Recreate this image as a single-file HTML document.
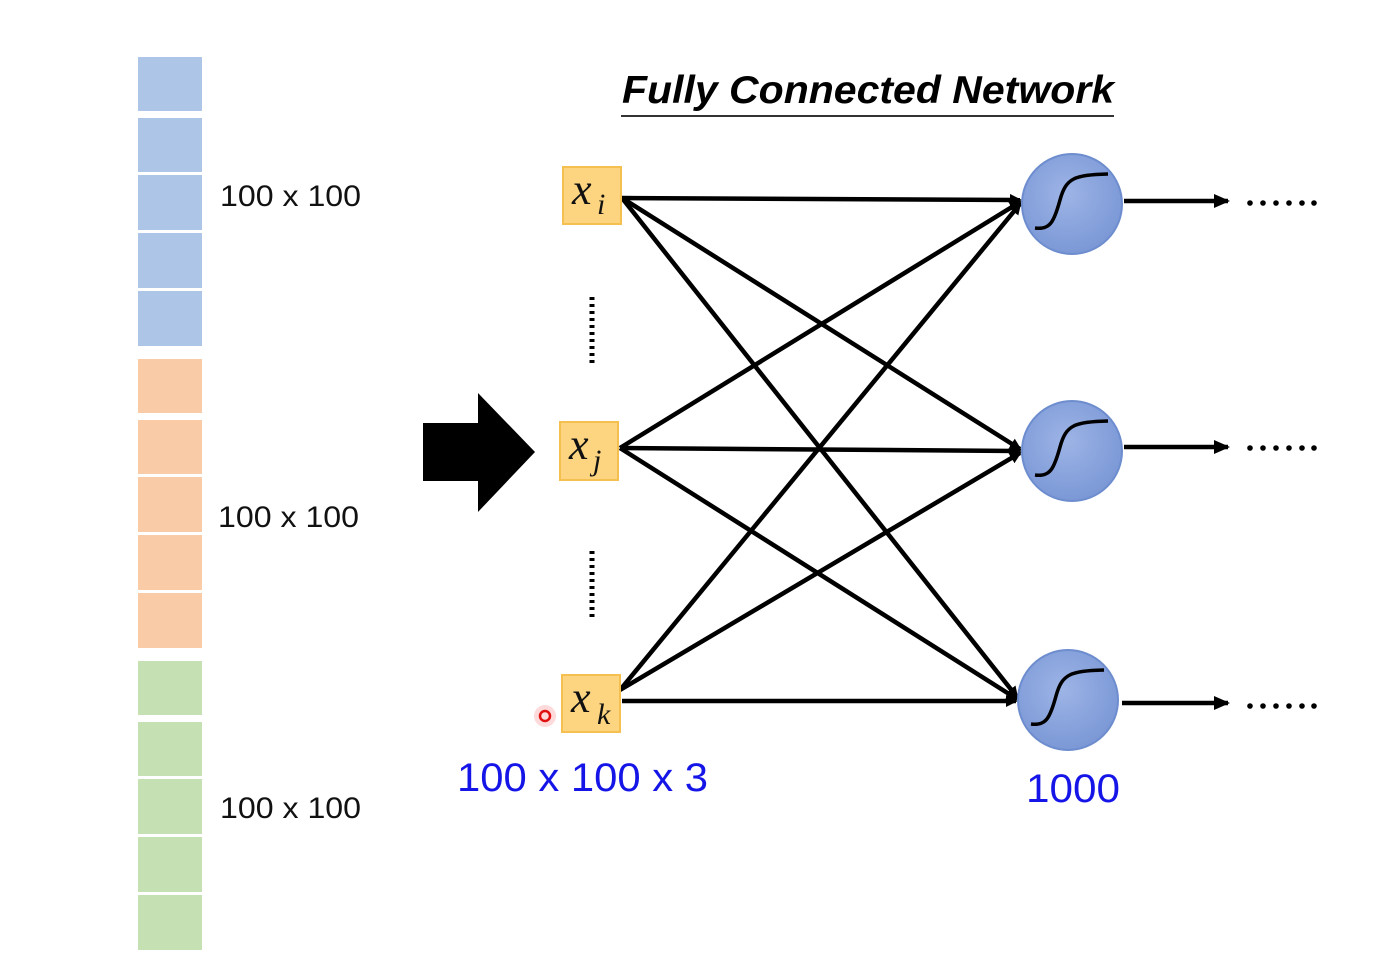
<!DOCTYPE html>
<html><head><meta charset="utf-8"><style>html,body{margin:0;padding:0;background:#fff}svg{display:block}</style></head>
<body>
<svg width="1399" height="971" viewBox="0 0 1399 971" xmlns="http://www.w3.org/2000/svg">
<defs>
<marker id="ah" markerWidth="12" markerHeight="12" refX="10" refY="6" orient="auto" markerUnits="userSpaceOnUse" viewBox="0 0 12 12">
<path d="M0,0 L12,6 L0,12 z" fill="#000"/></marker>
<marker id="ah2" markerWidth="16" markerHeight="14" refX="14" refY="7" orient="auto" markerUnits="userSpaceOnUse" viewBox="0 0 16 14">
<path d="M0,0 L16,7 L0,14 z" fill="#000"/></marker>
<radialGradient id="cg" cx="0.45" cy="0.4" r="0.6"><stop offset="0" stop-color="#9db4e6"/><stop offset="1" stop-color="#7b98d6"/></radialGradient>
<g id="dots" fill="#000"><circle cx="1250" cy="0" r="2.8"/><circle cx="1263" cy="0" r="2.8"/><circle cx="1276" cy="0" r="2.8"/><circle cx="1289" cy="0" r="2.8"/><circle cx="1302" cy="0" r="2.8"/><circle cx="1314" cy="0" r="2.8"/></g>
</defs>
<g fill="#adc5e6">
<rect x="138" y="57" width="64" height="54"/><rect x="138" y="118" width="64" height="54"/><rect x="138" y="175" width="64" height="55"/><rect x="138" y="233" width="64" height="55"/><rect x="138" y="291" width="64" height="55"/>
</g>
<g fill="#f9cba6">
<rect x="138" y="359" width="64" height="54"/><rect x="138" y="420" width="64" height="54"/><rect x="138" y="477" width="64" height="55"/><rect x="138" y="535" width="64" height="55"/><rect x="138" y="593" width="64" height="55"/>
</g>
<g fill="#c5e0b3">
<rect x="138" y="661" width="64" height="54"/><rect x="138" y="722" width="64" height="54"/><rect x="138" y="779" width="64" height="55"/><rect x="138" y="837" width="64" height="55"/><rect x="138" y="895" width="64" height="55"/>
</g>
<g font-family="Liberation Sans, sans-serif" font-size="30" fill="#111">
<text x="220" y="206" textLength="141" lengthAdjust="spacingAndGlyphs">100 x 100</text>
<text x="218" y="527" textLength="141" lengthAdjust="spacingAndGlyphs">100 x 100</text>
<text x="220" y="818" textLength="141" lengthAdjust="spacingAndGlyphs">100 x 100</text>
</g>
<text x="622" y="103" font-family="Liberation Sans, sans-serif" font-weight="bold" font-style="italic" font-size="39" textLength="492" lengthAdjust="spacingAndGlyphs">Fully Connected Network</text>
<rect x="621" y="115" width="493" height="2" fill="#333"/>
<path d="M423,423 H478 V393 L535,452 L478,512 V481 H423 Z" fill="#000"/>
<g stroke="#000" stroke-width="4.5" fill="none" marker-end="url(#ah)">
<line x1="622" y1="198" x2="1020" y2="200"/>
<line x1="622" y1="198" x2="1020" y2="449"/>
<line x1="622" y1="198" x2="1017" y2="697"/>
<line x1="620" y1="448" x2="1020" y2="202"/>
<line x1="620" y1="448" x2="1020" y2="451"/>
<line x1="620" y1="448" x2="1017" y2="699"/>
<line x1="620" y1="690" x2="1020" y2="204"/>
<line x1="620" y1="690" x2="1020" y2="453"/>
<line x1="622" y1="701" x2="1016" y2="701"/>
</g>
<g stroke="#000" stroke-width="4.5" marker-end="url(#ah2)">
<line x1="1124" y1="201" x2="1228" y2="201"/>
<line x1="1124" y1="447" x2="1228" y2="447"/>
<line x1="1122" y1="703" x2="1228" y2="703"/>
</g>
<use href="#dots" y="203"/><use href="#dots" y="448"/><use href="#dots" y="706"/>
<g stroke="#000" stroke-width="5" stroke-dasharray="3,4">
<line x1="592" y1="297" x2="592" y2="366"/>
<line x1="592" y1="551" x2="592" y2="621"/>
</g>
<g fill="#fdd580" stroke="#f5c04f" stroke-width="2">
<rect x="563" y="167" width="58" height="57"/>
<rect x="560" y="422" width="58" height="58"/>
<rect x="562" y="675" width="58" height="57"/>
</g>
<g font-family="Liberation Serif, serif" font-style="italic" fill="#111">
<text x="572" y="204" font-size="44">x</text><text x="597" y="214" font-size="30">i</text>
<text x="569" y="459" font-size="44">x</text><text x="593" y="470" font-size="30">j</text>
<text x="571" y="712" font-size="44">x</text><text x="597" y="724" font-size="30">k</text>
</g>
<g fill="url(#cg)" stroke="#6d8dcf" stroke-width="2">
<circle cx="1072" cy="204" r="50"/><circle cx="1072" cy="451" r="50"/><circle cx="1068" cy="700" r="50"/>
</g>
<g stroke="#000" stroke-width="3.5" fill="none">
<path d="M1035,228 C1050,230 1054,222 1060,200 C1066,178 1074,175 1108,174"/>
<path d="M1035,475 C1050,477 1054,469 1060,447 C1066,425 1074,422 1108,421"/>
<path d="M1031,724 C1046,726 1050,718 1056,696 C1062,674 1070,671 1104,670"/>
</g>
<circle cx="545" cy="716" r="11" fill="#ff6a6a" opacity="0.25"/>
<circle cx="545" cy="716" r="5" fill="none" stroke="#e01010" stroke-width="2.5"/>
<g font-family="Liberation Sans, sans-serif" font-size="40" fill="#1515e8">
<text x="457" y="791" textLength="251" lengthAdjust="spacingAndGlyphs">100 x 100 x 3</text>
<text x="1026" y="802" textLength="94" lengthAdjust="spacingAndGlyphs">1000</text>
</g>
</svg>
</body></html>
